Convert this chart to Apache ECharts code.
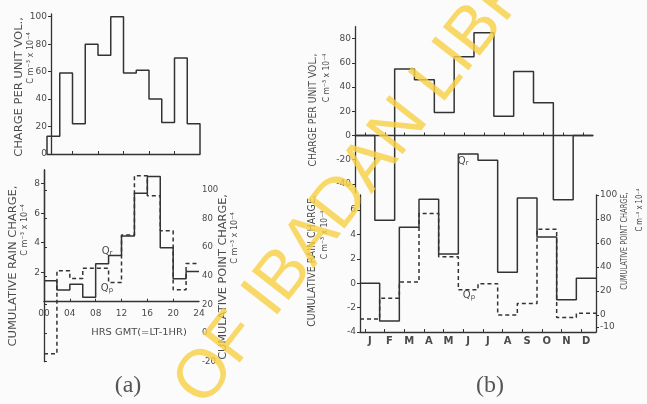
<!DOCTYPE html>
<html><head><meta charset="utf-8">
<script src="https://cdn.jsdelivr.net/npm/echarts@6/dist/echarts.min.js"></script>
<style>html,body{margin:0;padding:0;background:#fbfbfb}#c{width:647px;height:404px}</style>
</head><body><div id="c"></div>
<script>
// ---- data ----
const hourStarts = [0,2,4,6,8,10,12,14,16,18,20,22];
const hourEnd = 24;
const hourTickValues = [0,4,8,12,16,20,24];
const hourTickLabels = ['00','04','08','12','16','20','24'];
const chargeA = [13, 59, 22, 80, 72, 100, 59, 61, 40, 23, 70, 22];
const rainA   = [1.42, 0.8, 1.19, 0.3, 2.58, 3.13, 4.45, 7.35, 8.49, 3.66, 1.55, 2.05];
const pointA  = [-14.5, 43.6, 38.2, 45.4, 45.4, 35.4, 68.5, 110, 96, 71.5, 30.3, 48.7];

const months = ['J','F','M','A','M','J','J','A','S','O','N','D'];
const monthStarts = [0,1,2,3,4,5,6,7,8,9,10,11];
const monthEnd = 12;
const chargeB = [0, -70, 55, 46, 19, 65, 85, 16, 53, 27, -53, 0];
const rainB   = [0, -3.1, 4.6, 6.9, 2.4, 10.6, 10.1, 0.9, 7.0, 3.8, -1.35, 0.4];
const pointB  = [-3.3, 14, 27.5, 84.5, 48.5, 21, 26, 0, 9.5, 71.5, -2, 1.5];

const ticksChargeA = [0,20,40,60,80,100];
const ticksRainA = [2,4,6,8];
const ticksPointA = [-20,0,20,40,60,80,100];
const ticksChargeB = [-40,-20,0,20,40,60,80];
const ticksRainB = [-4,-2,0,2,4,6];
const ticksPointB = [-10,0,20,40,60,80,100];

// ---- helpers ----
function steps(starts, end, vals, closed){
  const d = [];
  if (closed) d.push([starts[0], 0]);
  starts.forEach((s,i)=>d.push([s, vals[i]]));
  d.push([end, vals[vals.length-1]]);
  if (closed) d.push([end, 0]);
  return d;
}
const INK = '#333';
const TXT = '#4a4a4a';
const FONT = 'DejaVu Sans';
const lab = {color: TXT, fontSize: 9, fontFamily: FONT};
function yAx(grid, min, max, vals, pos, extra){
  return Object.assign({
    type:'value', gridIndex:grid, min:min, max:max, position:pos,
    axisLine:{show:true, lineStyle:{color:INK, width:1.3}},
    axisTick:{show:true, length:3, customValues: vals, lineStyle:{color:INK}},
    axisLabel:Object.assign({customValues: vals, margin:4}, lab),
    splitLine:{show:false}
  }, extra||{});
}
function line(xi, yi, data, dashed, clip){
  return {type:'line', xAxisIndex:xi, yAxisIndex:yi, data:data, step:'end',
    showSymbol:false, symbol:'none', clip: clip!==false ? true : false, animation:false,
    lineStyle:{color:INK, width:1.5, type: dashed ? [4,3] : 'solid'}};
}
const monthCenters = monthStarts.map(m=>m+0.5);
const monthTicksBottom = monthStarts.map(m=>m+0.25);

function title(text, x, y, size, sx, rot){
  return {type:'text', x:x, y:y, rotation: rot===undefined ? Math.PI/2 : rot, scaleX:sx||1, z:10,
    style:{text:text, fill:TXT, font: size+'px "'+FONT+'"', textAlign:'center', textVerticalAlign:'middle'}};
}
function qlabel(sub, x, y){
  return {type:'text', x:x, y:y, z:10, style:{text:'{a|Q}{b|'+sub+'}', fill:TXT,
    rich:{a:{fontSize:10, fontFamily:FONT, fill:TXT, color:TXT}, b:{fontSize:7, fontFamily:FONT, color:TXT, padding:[5,0,0,0]}},
    textAlign:'center', textVerticalAlign:'middle'}};
}

const chart = echarts.init(document.getElementById('c'), null, {renderer:'canvas'});
chart.setOption({
  backgroundColor:'#fbfbfb',
  animation:false,
  grid:[
    {left:47, top:14, width:153, height:140},
    {left:44, top:170, width:155, height:131.7},
    {left:44, top:170, width:155, height:191.7},
    {left:355, top:26.6, width:238, height:165.8},
    {left:360, top:195, width:236, height:137}
  ],
  xAxis:[
    {type:'value', gridIndex:0, min:0, max:24, axisLine:{onZero:false, lineStyle:{color:INK, width:1.3}},
      axisTick:{inside:true, length:3, customValues:[4,8,12,16,20], lineStyle:{color:INK}}, axisLabel:{show:false}, splitLine:{show:false}},
    {type:'value', gridIndex:1, min:0, max:24, axisLine:{onZero:false, lineStyle:{color:INK, width:1.3}},
      axisTick:{inside:true, length:3, customValues:hourTickValues.slice(1,6), lineStyle:{color:INK}},
      axisLabel:Object.assign({customValues:hourTickValues, margin:7,
        formatter:v=>hourTickLabels[hourTickValues.indexOf(v)]}, lab), splitLine:{show:false}},
    {type:'value', gridIndex:2, min:0, max:24, show:false},
    {type:'value', gridIndex:3, min:0, max:12, axisLine:{onZero:true, lineStyle:{color:INK, width:1.3}},
      axisTick:{inside:true, length:3, customValues:monthCenters, lineStyle:{color:INK}}, axisLabel:{show:false}, splitLine:{show:false}},
    {type:'value', gridIndex:4, min:0, max:12, axisLine:{onZero:false, lineStyle:{color:INK, width:1.3}},
      axisTick:{inside:true, length:3, customValues:monthTicksBottom, lineStyle:{color:INK}},
      axisLabel:Object.assign({customValues:monthCenters, margin:4, fontWeight:'bold',
        formatter:v=>months[Math.floor(v)]}, lab, {fontSize:10}), splitLine:{show:false}}
  ],
  yAxis:[
    yAx(0, 0, 102, ticksChargeA, 'left', {offset:-4}),
    yAx(1, 0, 8.93, ticksRainA, 'left'),
    yAx(2, -20, 114, ticksPointA, 'right', {axisLabel:Object.assign({customValues: ticksPointA, margin:3}, lab, {fontSize:8.5})}),
    yAx(3, -47, 90, ticksChargeB, 'left'),
    yAx(4, -4, 7.24, ticksRainB, 'left'),
    yAx(4, -14.17, 100, ticksPointB, 'right')
  ],
  series:[
    line(0, 0, steps(hourStarts, hourEnd, chargeA, true), false),
    line(1, 1, steps(hourStarts, hourEnd, rainA, false), false),
    line(2, 2, steps(hourStarts, hourEnd, pointA, false), true),
    line(3, 3, steps(monthStarts, monthEnd, chargeB, false), false, false),
    line(4, 4, steps(monthStarts, monthEnd, rainB, false), false, false),
    line(4, 5, steps(monthStarts, monthEnd, pointB, false), true, false)
  ],
  graphic:[
    title('CHARGE PER UNIT VOL.,', 19, 87, 10, 1.15),
    title('C m\u207B\u00B3 x 10\u207B\u2074', 31, 58, 9, 0.9),
    title('CUMULATIVE RAIN CHARGE,', 13, 266, 10, 1.15),
    title('C m\u207B\u00B3 x 10\u207B\u2074', 25, 230, 9, 0.9),
    title('CUMULATIVE POINT CHARGE,', 223, 277, 10, 1.13),
    title('C m\u207B\u00B3 x 10\u207B\u2074', 235, 238, 9, 0.9),
    title('HRS GMT(=LT-1HR)', 139, 333, 9, 1.1, 0),
    title('CHARGE PER UNIT VOL.,', 313, 110, 10, 0.93),
    title('C m\u207B\u00B3 x 10\u207B\u2074', 327, 78, 9, 0.85),
    title('CUMULATIVE RAIN CHARGE,', 312, 261, 10, 0.94),
    title('C m\u207B\u00B3 x 10\u207B\u2074', 325, 235, 9, 0.85),
    title('CUMULATIVE POINT CHARGE,', 625, 241, 8, 0.83),
    title('C m\u207B\u00B3 x 10\u207B\u2074', 640, 210, 8, 0.85),
    qlabel('r', 107, 251), qlabel('p', 107, 288),
    qlabel('r', 463, 161), qlabel('p', 469, 295),
    {type:'text', x:128, y:386, z:10, style:{text:'(a)', fill:'#555', font:'24px "Liberation Serif"', textAlign:'center', textVerticalAlign:'middle'}},
    {type:'text', x:490, y:386, z:10, style:{text:'(b)', fill:'#555', font:'24px "Liberation Serif"', textAlign:'center', textVerticalAlign:'middle'}},
    {type:'text', x:189, y:397, rotation:0.907, z:20, style:{text:'OF IBADAN LIBRARY', fill:'#f6cf45', opacity:0.82,
      font:'68px "Liberation Sans"', textAlign:'left', textVerticalAlign:'middle'}}
  ]
});
</script></body></html>
